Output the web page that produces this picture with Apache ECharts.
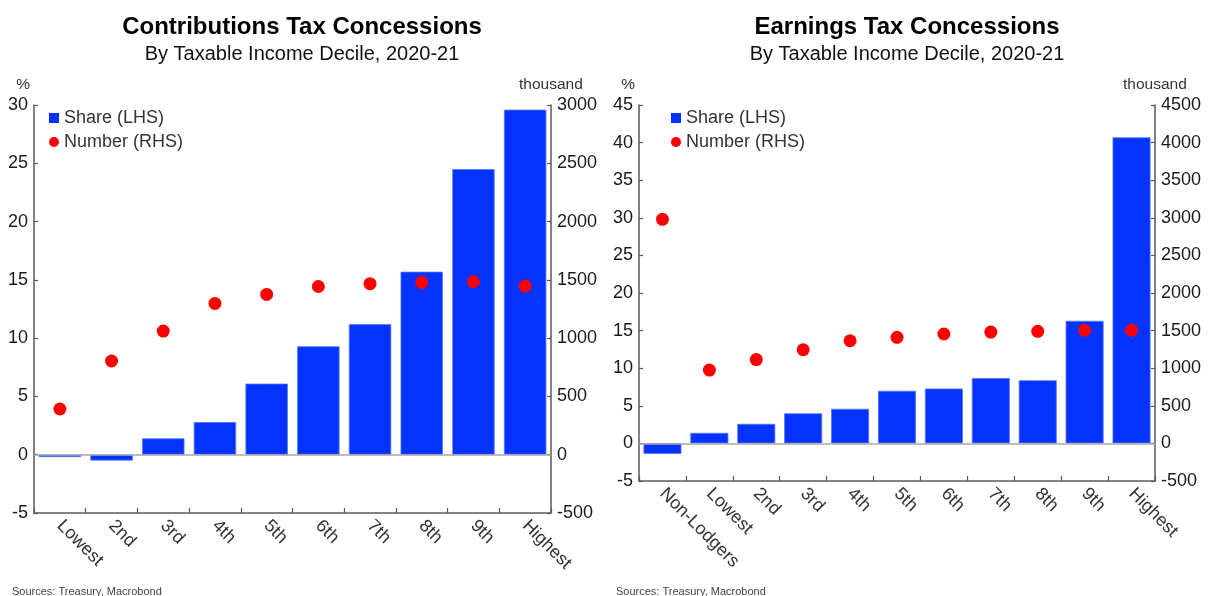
<!DOCTYPE html>
<html><head><meta charset="utf-8">
<script src="https://cdn.jsdelivr.net/npm/echarts@6/dist/echarts.min.js"></script>
<style>html,body{margin:0;padding:0;background:#fff}#c{width:1209px;height:596px}</style>
</head><body><div id="c"></div>
<script>
const catsLeft = ['Lowest','2nd','3rd','4th','5th','6th','7th','8th','9th','Highest'];
const shareLeft = [-0.2, -0.5, 1.4, 2.8, 6.1, 9.3, 11.2, 15.7, 24.5, 29.6];
const numberLeft = [392, 804, 1061, 1298, 1375, 1443, 1467, 1478, 1484, 1447];
const catsRight = ['Non-Lodgers','Lowest','2nd','3rd','4th','5th','6th','7th','8th','9th','Highest'];
const shareRight = [-1.4, 1.4, 2.6, 4.0, 4.6, 7.0, 7.3, 8.7, 8.4, 16.3, 40.7];
const numberRight = [2980, 975, 1115, 1245, 1365, 1410, 1455, 1480, 1490, 1505, 1505];
const titles = ['Contributions Tax Concessions','Earnings Tax Concessions'];
const subtitle = 'By Taxable Income Decile, 2020-21';
const source = 'Sources: Treasury, Macrobond';

const FONT = 'Liberation Sans, Arial, sans-serif';
const BLUE = '#0433ff', RED = '#ff0000', AX = '#595959';
const chart = echarts.init(document.getElementById('c'), null, {renderer:'canvas'});

function yAx(gi, min, max, interval, name, pos) {
  return {
    type:'value', gridIndex:gi, min, max, interval, position:pos,
    name, nameLocation:'end', nameGap:12,
    nameTextStyle:{fontFamily:FONT, fontSize:15.5, color:'#333',
      align: pos==='left' ? 'right' : 'left',
      padding: pos==='left' ? [0,4,0,0] : [0,0,0,-32]},
    axisLine:{show:true, onZero:false, lineStyle:{color:AX, width:1.5}},
    axisTick:{show:true, inside:true, length:4, lineStyle:{color:AX, width:1.2}},
    axisLabel:{fontFamily:FONT, fontSize:18, color:'#1a1a1a', margin:6,
      formatter: v => String(v)},
    splitLine:{show:false}
  };
}
function xAx(gi, data) {
  return {
    type:'category', gridIndex:gi, data,
    axisLine:{show:true, onZero:false, lineStyle:{color:AX, width:1.5}},
    axisTick:{show:true, inside:true, length:5, lineStyle:{color:AX, width:1.2}},
    axisLabel:{fontFamily:FONT, fontSize:18, color:'#333', rotate:-45, margin:10, interval:0},
    splitLine:{show:false}
  };
}
function barS(xi, yi, data, gap) {
  return {
    name:'Share (LHS)', type:'bar', xAxisIndex:xi, yAxisIndex:yi, data,
    barCategoryGap:gap, itemStyle:{color:BLUE, borderColor:'#5577ff', borderWidth:0.8},
    markLine:{silent:true, symbol:'none', label:{show:false},
      lineStyle:{color:'#a6a6a6', width:1.5, type:'solid'}, data:[{yAxis:0}]},
    z:2
  };
}
function dotS(xi, yi, data) {
  return {
    name:'Number (RHS)', type:'scatter', xAxisIndex:xi, yAxisIndex:yi, data,
    symbol:'circle', symbolSize:13, itemStyle:{color:RED, opacity:1}, z:3
  };
}
function legend(left) {
  return {
    left, top:104, orient:'vertical', itemGap:6, itemWidth:10, itemHeight:10,
    textStyle:{fontFamily:FONT, fontSize:18, color:'#333'},
    itemStyle:{borderWidth:0},
    data:[{name:'Share (LHS)', icon:'rect', itemStyle:{color:BLUE, borderWidth:0}},
          {name:'Number (RHS)', icon:'circle', itemStyle:{color:RED, borderWidth:0}}]
  };
}
function titleBlock(text, x) {
  return {text, subtext:subtitle, left:x, top:10, textAlign:'center', itemGap:5,
     textStyle:{fontFamily:FONT, fontSize:24, fontWeight:'bold', color:'#000'},
     subtextStyle:{fontFamily:FONT, fontSize:20, color:'#111'}};
}

chart.setOption({
  backgroundColor:'#fff',
  animation:false,
  title:[
    titleBlock(titles[0], 297),
    titleBlock(titles[1], 902),
    {text:source, left:7, top:581, textStyle:{fontFamily:FONT, fontSize:11, fontWeight:'normal', color:'#444'}},
    {text:source, left:611, top:581, textStyle:{fontFamily:FONT, fontSize:11, fontWeight:'normal', color:'#444'}}
  ],
  legend:[legend(44), legend(666)],
  grid:[
    {left:34, top:105, width:517, height:408},
    {left:639, top:105, width:516, height:376}
  ],
  xAxis:[xAx(0, catsLeft), xAx(1, catsRight)],
  yAxis:[
    yAx(0, -5, 30, 5, '%', 'left'),
    yAx(0, -500, 3000, 500, 'thousand', 'right'),
    yAx(1, -5, 45, 5, '%', 'left'),
    yAx(1, -500, 4500, 500, 'thousand', 'right')
  ],
  series:[
    barS(0, 0, shareLeft, '18%'),
    dotS(0, 1, numberLeft),
    barS(1, 2, shareRight, '19%'),
    dotS(1, 3, numberRight)
  ]
});
</script></body></html>
